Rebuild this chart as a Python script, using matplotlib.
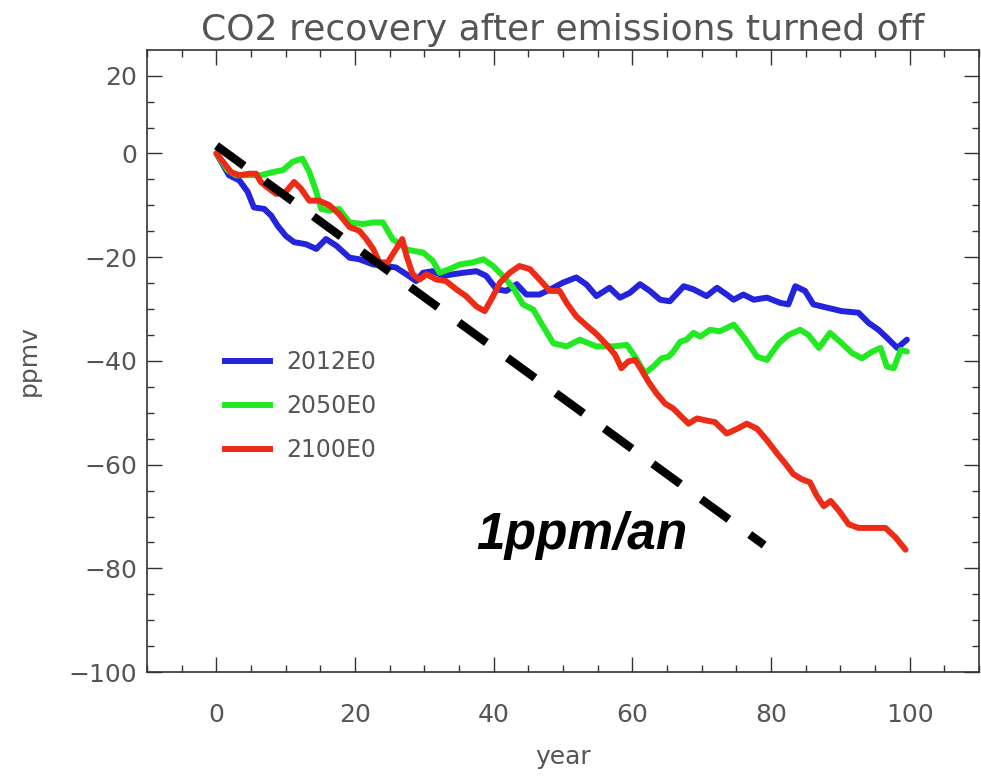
import matplotlib
matplotlib.use("Agg")
import matplotlib.pyplot as plt
from matplotlib.lines import Line2D
from matplotlib.ticker import FixedLocator, MultipleLocator

# CO2 anomaly (ppmv) after emissions stop, for three stop years
years_2012 = [0, 1.8, 3.3, 4.5, 5.4, 6.9, 7.9, 8.8, 10.0, 11.2, 12.9, 14.4, 15.8, 17.3,
              19.2, 20.6, 22.6, 24.5, 25.9, 27.4, 28.8, 29.8, 31.2, 32.7, 34.1, 35.6,
              37.5, 38.9, 40.4, 41.8, 43.3, 44.7, 46.6, 48.6, 50.0, 51.9, 53.4, 54.8,
              56.7, 58.2, 59.6, 61.1, 62.5, 64.0, 65.4, 67.4, 68.8, 70.7, 72.2, 73.6,
              74.6, 76.0, 77.5, 79.4, 81.3, 82.5, 83.5, 84.9, 86.1, 88.3, 90.2, 92.6,
              94.1, 95.5, 97.0, 98.2, 99.6]
co2_2012 = [0, -4.2, -5.2, -7.4, -10.4, -10.7, -12.0, -13.9, -15.9, -17.1, -17.5, -18.4,
            -16.5, -17.8, -20.1, -20.4, -21.4, -21.7, -22.0, -23.3, -24.6, -23.0, -22.7,
            -23.6, -23.3, -23.0, -22.7, -23.6, -26.2, -26.5, -25.2, -27.2, -27.2, -25.9,
            -24.9, -23.9, -25.3, -27.5, -25.9, -27.8, -26.9, -25.2, -26.5, -28.2, -28.5,
            -25.6, -26.2, -27.5, -25.9, -27.2, -28.2, -27.2, -28.2, -27.8, -28.8, -29.1,
            -25.6, -26.5, -29.1, -29.8, -30.4, -30.7, -32.7, -34.0, -35.9, -37.5, -35.9]

years_2050 = [0, 1.6, 2.8, 4.7, 6.4, 8.1, 9.6, 11.0, 12.4, 13.4, 14.4, 15.1, 16.3, 17.7,
              19.2, 21.1, 22.6, 24.0, 25.4, 27.6, 29.8, 31.2, 32.2, 33.6, 35.1, 37.0,
              38.5, 39.9, 41.3, 42.8, 44.2, 45.7, 47.1, 48.6, 50.5, 52.4, 54.8, 57.2,
              59.2, 60.4, 61.8, 63.0, 64.2, 65.2, 65.9, 66.9, 67.8, 68.8, 69.8, 71.2,
              72.6, 74.6, 76.0, 78.0, 79.4, 80.4, 81.1, 82.5, 84.2, 85.4, 86.9, 88.5,
              90.2, 91.7, 93.1, 94.6, 95.8, 96.7, 97.7, 98.7, 99.6]
co2_2050 = [0, -3.2, -4.2, -4.2, -4.2, -3.6, -3.2, -1.6, -1.0, -3.6, -7.4, -10.7, -11.0,
            -10.7, -13.3, -13.6, -13.3, -13.3, -16.5, -18.6, -19.1, -20.7, -23.0, -22.3,
            -21.4, -21.0, -20.4, -21.7, -23.6, -25.9, -29.1, -30.1, -33.3, -36.6, -37.2,
            -35.9, -37.2, -37.2, -36.9, -39.2, -42.4, -41.1, -39.5, -39.2, -38.2, -36.3,
            -35.9, -34.6, -35.3, -34.0, -34.3, -33.0, -35.3, -39.2, -39.8, -37.9, -36.6,
            -35.0, -34.0, -35.0, -37.5, -34.6, -36.6, -38.5, -39.5, -38.2, -37.5, -41.1,
            -41.4, -37.9, -38.2]

years_2100 = [0, 2.1, 3.3, 4.7, 5.7, 6.4, 7.6, 8.6, 10.0, 11.2, 12.2, 13.4, 14.8, 16.3,
              17.7, 19.2, 20.6, 21.6, 22.6, 23.5, 24.7, 26.2, 26.8, 27.4, 28.3, 29.3,
              30.3, 31.7, 33.1, 34.6, 36.0, 37.5, 38.7, 39.9, 40.9, 42.3, 43.7, 45.2,
              46.6, 48.1, 49.5, 50.5, 51.9, 53.4, 54.8, 56.3, 57.5, 58.4, 59.4, 60.4,
              61.3, 62.3, 63.5, 64.7, 65.9, 67.1, 68.1, 69.3, 70.7, 71.9, 73.6, 75.1,
              76.5, 78.0, 79.4, 80.9, 82.3, 83.2, 84.4, 85.6, 86.6, 87.6, 88.6, 89.8,
              91.2, 92.6, 94.6, 96.5, 98.0, 99.4]
co2_2100 = [0, -3.6, -4.2, -3.9, -3.9, -5.5, -6.8, -7.8, -7.4, -5.5, -6.8, -9.1, -9.1,
            -10.0, -11.7, -14.2, -14.9, -16.5, -18.4, -21.0, -21.0, -17.8, -16.5, -19.7,
            -23.3, -24.3, -23.3, -24.3, -24.6, -26.2, -27.5, -29.5, -30.4, -27.5, -24.9,
            -23.0, -21.7, -22.3, -24.3, -26.5, -26.5, -28.8, -31.4, -33.2, -34.8, -36.9,
            -38.8, -41.4, -40.1, -39.8, -41.7, -44.0, -46.3, -48.2, -49.2, -50.8, -52.1,
            -51.1, -51.5, -51.8, -54.0, -53.1, -52.1, -53.1, -55.3, -57.9, -60.2, -61.8,
            -62.8, -63.4, -66.0, -68.0, -67.0, -68.9, -71.5, -72.2, -72.2, -72.2, -74.1,
            -76.4]

series_labels = ["2012E0", "2050E0", "2100E0"]
series_colors = ["#2424dc", "#22ea22", "#ec2c16"]

# reference slope drawn as a dashed line
trend_years = [0, 79]
trend_co2 = [1.5, -75.5]
trend_label = "1ppm/an"

ytick_pos = [-100, -80, -60, -40, -20, 0, 15]
ytick_labels = ["\u2212100", "\u221280", "\u221260", "\u221240", "\u221220", "0", "20"]
xtick_pos = [0, 20, 40, 60, 80, 100]

grey = "#555555"

fig = plt.figure(figsize=(9.81, 7.77), dpi=100)
ax = fig.add_axes([0.150, 0.135, 0.848, 0.801])

for xs, ys, c in zip([years_2012, years_2050, years_2100],
                     [co2_2012, co2_2050, co2_2100], series_colors):
    ax.plot(xs, ys, color=c, lw=4.3, solid_joinstyle="round", solid_capstyle="round")

ax.plot(trend_years, trend_co2, color="black", lw=6, dashes=(4.1, 3.1),
        dash_capstyle="butt")
ax.text(37.5, -76.3, trend_label, fontsize=37, fontweight="bold", fontstyle="italic",
        family="Liberation Sans", color="black", ha="left", va="baseline")

ax.set_xlim(-10, 110)
ax.set_ylim(-100, 20)
ax.xaxis.set_major_locator(FixedLocator(xtick_pos))
ax.xaxis.set_minor_locator(MultipleLocator(5))
ax.yaxis.set_major_locator(FixedLocator(ytick_pos))
ax.yaxis.set_minor_locator(FixedLocator([v for v in range(-95, 15, 5) if v % 20 != 0]))
ax.set_yticklabels(ytick_labels)

ax.tick_params(which="both", direction="in", top=True, right=True, color="#333333", width=1)
ax.tick_params(which="major", length=11)
ax.tick_params(which="minor", length=5)
ax.tick_params(axis="x", which="major", pad=22, labelsize=18, labelcolor=grey)
ax.tick_params(axis="y", which="major", pad=7, labelsize=18, labelcolor=grey)
for sp in ax.spines.values():
    sp.set_color("#333333")
    sp.set_linewidth(1.2)

ax.set_title("CO2 recovery after emissions turned off", fontsize=26, color=grey, pad=7)
ax.set_xlabel("year", fontsize=18, color=grey, labelpad=13)
ax.set_ylabel("ppmv", fontsize=18, color=grey, labelpad=20)

handles = [Line2D([], [], color=c, lw=4.3) for c in series_colors]
leg = ax.legend(handles, series_labels, loc="upper left", bbox_to_anchor=(0.094, 0.517),
                frameon=False, fontsize=17, handlelength=1.9, handletextpad=0.7,
                labelspacing=0.85, borderpad=0, borderaxespad=0)
for t in leg.get_texts():
    t.set_color(grey)

fig.savefig("out.png", dpi=100)
